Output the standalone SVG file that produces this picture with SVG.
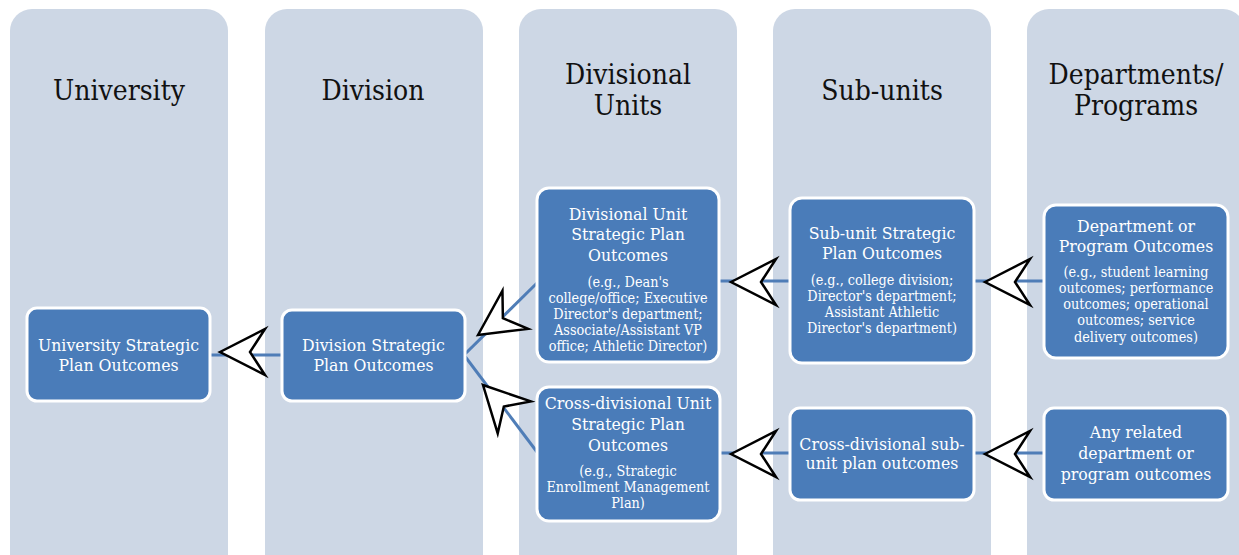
<svg xmlns="http://www.w3.org/2000/svg" width="1239" height="555" viewBox="0 0 1239 555">
<defs>
<style>
.col{fill:#CDD7E5}
.hdr{font-family:"DejaVu Serif Condensed","DejaVu Serif","Liberation Serif",serif;font-size:28px;fill:#111;text-anchor:middle}
.box{fill:#4A7CB9;stroke:#fff;stroke-width:3}
.t{font-family:"DejaVu Serif Condensed","DejaVu Serif","Liberation Serif",serif;font-size:17.5px;fill:#fff;text-anchor:middle}
.s{font-family:"DejaVu Serif Condensed","DejaVu Serif","Liberation Serif",serif;font-size:14.3px;fill:#fff;text-anchor:middle}
.ln{stroke:#4F7DB7;stroke-width:3;fill:none}
.ah{fill:#fff;stroke:#000;stroke-width:2.5;stroke-linejoin:miter}
</style>
<path id="arrow" class="ah" d="M0,0 L45,-23 L30,0 L45,23 Z"/>
</defs>
<rect width="1239" height="555" fill="#fff"/>
<g id="columns">
<rect class="col" x="10" y="9" width="218" height="580" rx="22"/>
<rect class="col" x="265" y="9" width="218" height="580" rx="22"/>
<rect class="col" x="519" y="9" width="218" height="580" rx="22"/>
<rect class="col" x="773" y="9" width="218" height="580" rx="22"/>
<rect class="col" x="1027" y="9" width="218" height="580" rx="22"/>
<text class="hdr" x="119" y="100">University</text>
<text class="hdr" x="373" y="100">Division</text>
<text class="hdr" x="628" y="84">Divisional</text>
<text class="hdr" x="628" y="115">Units</text>
<text class="hdr" x="882" y="100">Sub-units</text>
<text class="hdr" x="1136" y="84">Departments/</text>
<text class="hdr" x="1136" y="115">Programs</text>
</g>
<g id="connectors">
<line class="ln" x1="210" y1="355" x2="282" y2="355"/>
<line class="ln" x1="464" y1="355" x2="537" y2="283"/>
<line class="ln" x1="464" y1="355" x2="537" y2="452"/>
<line class="ln" x1="719" y1="281" x2="790" y2="281"/>
<line class="ln" x1="720" y1="453" x2="790" y2="453"/>
<line class="ln" x1="974" y1="281" x2="1044" y2="281"/>
<line class="ln" x1="974" y1="453" x2="1044" y2="453"/>
<use href="#arrow" transform="translate(220,352)"/>
<use href="#arrow" transform="translate(478,335) rotate(-34)"/>
<use href="#arrow" transform="translate(483,385) rotate(46)"/>
<use href="#arrow" transform="translate(731,282)"/>
<use href="#arrow" transform="translate(731,454)"/>
<use href="#arrow" transform="translate(985,282)"/>
<use href="#arrow" transform="translate(985,454)"/>
</g>
<g id="university">
<rect class="box" x="27" y="308" width="183" height="93" rx="10"/>
<text class="t" x="118.5" y="351">University Strategic</text>
<text class="t" x="118.5" y="371">Plan Outcomes</text>
</g>
<g id="division">
<rect class="box" x="282" y="310" width="183" height="91" rx="10"/>
<text class="t" x="373.5" y="351">Division Strategic</text>
<text class="t" x="373.5" y="371">Plan Outcomes</text>
</g>
<g id="divisional-unit">
<rect class="box" x="537" y="188" width="182" height="174" rx="12"/>
<text class="t" x="628" y="220">Divisional Unit</text>
<text class="t" x="628" y="240">Strategic Plan</text>
<text class="t" x="628" y="261">Outcomes</text>
<text class="s" x="628" y="287">(e.g., Dean's</text>
<text class="s" x="628" y="303">college/office; Executive</text>
<text class="s" x="628" y="319">Director's department;</text>
<text class="s" x="628" y="335">Associate/Assistant VP</text>
<text class="s" x="628" y="351">office; Athletic Director)</text>
</g>
<g id="cross-divisional-unit">
<rect class="box" x="537" y="387" width="183" height="134" rx="12"/>
<text class="t" x="628" y="409">Cross-divisional Unit</text>
<text class="t" x="628" y="430">Strategic Plan</text>
<text class="t" x="628" y="451">Outcomes</text>
<text class="s" x="628" y="476">(e.g., Strategic</text>
<text class="s" x="628" y="492">Enrollment Management</text>
<text class="s" x="628" y="508">Plan)</text>
</g>
<g id="sub-unit">
<rect class="box" x="790" y="198" width="184" height="165" rx="12"/>
<text class="t" x="882" y="239">Sub-unit Strategic</text>
<text class="t" x="882" y="259">Plan Outcomes</text>
<text class="s" x="882" y="285">(e.g., college division;</text>
<text class="s" x="882" y="301">Director's department;</text>
<text class="s" x="882" y="317">Assistant Athletic</text>
<text class="s" x="882" y="333">Director's department)</text>
</g>
<g id="cross-divisional-sub-unit">
<rect class="box" x="790" y="408" width="184" height="92" rx="10"/>
<text class="t" x="882" y="450">Cross-divisional sub-</text>
<text class="t" x="882" y="469">unit plan outcomes</text>
</g>
<g id="department">
<rect class="box" x="1044" y="205" width="184" height="153" rx="12"/>
<text class="t" x="1136" y="232">Department or</text>
<text class="t" x="1136" y="252">Program Outcomes</text>
<text class="s" x="1136" y="277">(e.g., student learning</text>
<text class="s" x="1136" y="293">outcomes; performance</text>
<text class="s" x="1136" y="309">outcomes; operational</text>
<text class="s" x="1136" y="325">outcomes; service</text>
<text class="s" x="1136" y="342">delivery outcomes)</text>
</g>
<g id="any-related">
<rect class="box" x="1044" y="408" width="184" height="92" rx="10"/>
<text class="t" x="1136" y="438">Any related</text>
<text class="t" x="1136" y="459">department or</text>
<text class="t" x="1136" y="480">program outcomes</text>
</g>
</svg>
